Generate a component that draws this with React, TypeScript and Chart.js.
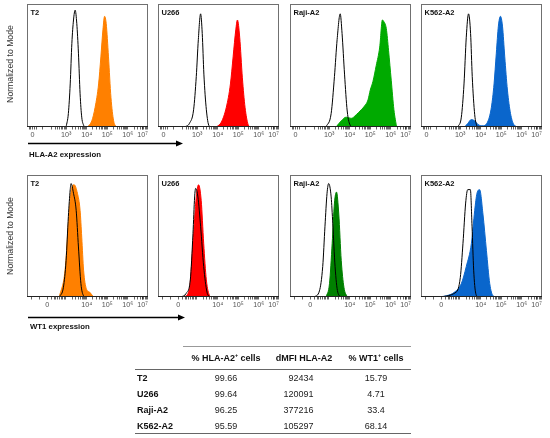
import React, { useEffect, useRef } from "react";
import { Chart, registerables } from "chart.js";

Chart.register(...registerables);

const FONT = "'Liberation Sans', Arial, Helvetica, sans-serif";

// ---- x axis (biexponential display, in decade units) ----
const X_MIN = 1.1;
const X_MAX = 6.98;
const HLA_TICK_POS = [1.37, 3, 4, 5, 6, 6.72];
const HLA_TICK_LABELS = ["0", "10³", "10⁴", "10⁵", "10⁶", "10⁷"];
const WT1_TICK_POS = [2.08, 4, 5, 6, 6.72];
const WT1_TICK_LABELS = ["0", "10⁴", "10⁵", "10⁶", "10⁷"];
const HLA_ZERO_TICKS = [1.2, 1.29, 1.45, 1.55, 1.85];
const WT1_ZERO_TICKS = [1.33, 1.7, 2.45];

const CELL_LINES = ["T2", "U266", "Raji-A2", "K562-A2"];
const FILL_COLORS_HLA = ["#FF8000", "#FF0000", "#00AA00", "#0A66CC"];
const FILL_COLORS_WT1 = ["#FF8000", "#FF0000", "#008000", "#0A66CC"];

// ---- histograms: [position (log decade), % of mode] ----
// HLA-A2 row: unstained/isotype (open) and stained (filled)
const T2_HLA_OPEN: [number, number][] = [[3.0, 0], [3.11, 11], [3.2, 35], [3.28, 68], [3.36, 87], [3.44, 95], [3.52, 84], [3.6, 60], [3.68, 27], [3.76, 8], [3.88, 0]];
const T2_HLA_FILL: [number, number][] = [[4.04, 0], [4.25, 5], [4.41, 16], [4.58, 35], [4.69, 57], [4.79, 79], [4.87, 90], [4.95, 84], [5.06, 57], [5.18, 24], [5.31, 5], [5.44, 0]];
const U266_HLA_OPEN: [number, number][] = [[2.39, 0], [2.63, 3], [2.83, 14], [2.96, 41], [3.06, 71], [3.17, 92], [3.25, 76], [3.33, 43], [3.45, 14], [3.58, 1], [3.7, 0]];
const U266_HLA_FILL: [number, number][] = [[3.94, 0], [4.18, 4], [4.42, 16], [4.62, 35], [4.75, 57], [4.88, 79], [4.96, 87], [5.07, 73], [5.2, 40], [5.33, 16], [5.48, 2], [5.59, 0]];
const RAJI_HLA_OPEN: [number, number][] = [[2.85, 0], [3.1, 11], [3.26, 41], [3.39, 71], [3.54, 92], [3.63, 76], [3.75, 43], [3.88, 13], [4.04, 1], [4.15, 0]];
const RAJI_HLA_FILL: [number, number][] = [[3.34, 0], [3.59, 5], [3.83, 8], [4.07, 7], [4.32, 10], [4.56, 14], [4.72, 17], [4.89, 22], [5.0, 30], [5.13, 37], [5.29, 50], [5.46, 65], [5.59, 87], [5.65, 86], [5.78, 80], [5.89, 62], [6.02, 38], [6.15, 14], [6.28, 0]];
const K562_HLA_OPEN: [number, number][] = [[2.89, 0], [3.06, 8], [3.19, 35], [3.3, 73], [3.41, 92], [3.51, 76], [3.59, 41], [3.71, 10], [3.82, 0]];
const K562_HLA_FILL: [number, number][] = [[3.22, 0], [3.38, 3], [3.54, 6], [3.71, 5], [3.87, 2], [4.11, 1], [4.36, 5], [4.52, 16], [4.65, 35], [4.76, 60], [4.86, 82], [4.96, 90], [5.06, 82], [5.17, 57], [5.3, 30], [5.45, 11], [5.61, 2], [5.82, 0]];

// WT1 row
const T2_WT1_OPEN: [number, number][] = [[2.67, 0], [2.87, 8], [3.0, 30], [3.11, 66], [3.2, 88], [3.24, 93], [3.36, 85], [3.49, 71], [3.6, 41], [3.72, 11], [3.85, 1], [3.95, 0]];
const T2_WT1_FILL: [number, number][] = [[2.67, 0], [2.95, 22], [3.11, 60], [3.28, 90], [3.39, 92], [3.55, 85], [3.68, 71], [3.76, 49], [3.85, 22], [3.98, 7], [4.14, 4], [4.33, 0]];
const U266_WT1_OPEN: [number, number][] = [[2.23, 0], [2.47, 3], [2.67, 14], [2.8, 52], [2.88, 82], [2.93, 89], [3.04, 82], [3.17, 58], [3.32, 25], [3.48, 4], [3.61, 0]];
const U266_WT1_FILL: [number, number][] = [[2.39, 0], [2.63, 7], [2.8, 44], [2.96, 82], [3.07, 92], [3.2, 79], [3.32, 44], [3.45, 14], [3.61, 1], [3.69, 0]];
const RAJI_WT1_OPEN: [number, number][] = [[2.28, 0], [2.53, 5], [2.69, 25], [2.8, 58], [2.9, 85], [2.98, 93], [3.1, 82], [3.18, 60], [3.29, 25], [3.42, 4], [3.59, 0]];
const RAJI_WT1_FILL: [number, number][] = [[2.85, 0], [3.02, 11], [3.15, 44], [3.26, 77], [3.36, 86], [3.47, 68], [3.59, 30], [3.72, 8], [3.88, 0]];
const K562_WT1_OPEN: [number, number][] = [[1.84, 0], [2.81, 4], [3.01, 16], [3.14, 44], [3.27, 77], [3.37, 88], [3.5, 88], [3.58, 58], [3.66, 22], [3.76, 3], [3.87, 0]];
const K562_WT1_FILL: [number, number][] = [[1.84, 0], [2.33, 1], [2.73, 4], [3.06, 11], [3.3, 25], [3.55, 44], [3.71, 71], [3.82, 85], [3.95, 88], [4.11, 68], [4.28, 38], [4.44, 11], [4.6, 1], [4.76, 0]];

const HLA_OPEN = [T2_HLA_OPEN, U266_HLA_OPEN, RAJI_HLA_OPEN, K562_HLA_OPEN];
const HLA_FILL = [T2_HLA_FILL, U266_HLA_FILL, RAJI_HLA_FILL, K562_HLA_FILL];
const WT1_OPEN = [T2_WT1_OPEN, U266_WT1_OPEN, RAJI_WT1_OPEN, K562_WT1_OPEN];
const WT1_FILL = [T2_WT1_FILL, U266_WT1_FILL, RAJI_WT1_FILL, K562_WT1_FILL];

// ---- table ----
const TABLE_HEADERS = ["% HLA-A2", "dMFI HLA-A2", "% WT1"];
const HLA_POS_CELLS = ["99.66", "99.64", "96.25", "95.59"];
const DMFI_HLA = ["92434", "120091", "377216", "105297"];
const WT1_POS_CELLS = ["15.79", "4.71", "33.4", "68.14"];

// ---- layout ----
const FRAME_LEFTS = [27, 158, 290, 421];
const FRAME_W = 121;
const ROWS = [
  { top: 4, h: 123 },
  { top: 175, h: 122 },
];

function minorTicks(zero: number[]): number[] {
  const out: number[] = [...zero];
  for (let d = 2; d <= 6; d++) {
    for (let k = 2; k <= 9; k++) {
      const p = d + Math.log10(k);
      if (p > X_MIN && p < X_MAX) out.push(p);
    }
  }
  return out;
}

const framePlugin = {
  id: "frame",
  afterDatasetsDraw(chart: any) {
    const { ctx, chartArea } = chart;
    const { left, top, right, bottom } = chartArea;
    ctx.save();
    ctx.strokeStyle = "#707070";
    ctx.lineWidth = 1;
    ctx.strokeRect(left + 0.5, top + 0.5, right - left - 1, bottom - top - 1);
    ctx.strokeStyle = "#222";
    ctx.beginPath();
    ctx.moveTo(left, bottom - 0.5);
    ctx.lineTo(right, bottom - 0.5);
    ctx.stroke();
    ctx.restore();
  },
};

type PanelProps = {
  left: number;
  top: number;
  h: number;
  open: [number, number][];
  fill: [number, number][];
  color: string;
  tickPos: number[];
  tickLabels: string[];
  zeroTicks: number[];
};

function Panel({ left, top, h, open, fill, color, tickPos, tickLabels, zeroTicks }: PanelProps) {
  const ref = useRef<HTMLCanvasElement>(null);
  const cw = FRAME_W + 2;
  const ch = h + 1 + 14;
  useEffect(() => {
    const all = Array.from(new Set([...tickPos, ...minorTicks(zeroTicks)])).sort((a, b) => a - b);
    const chart = new Chart(ref.current!, {
      type: "line",
      data: {
        datasets: [
          {
            data: open.map(([x, y]) => ({ x, y })),
            borderColor: "#000",
            borderWidth: 1,
            fill: false,
            pointRadius: 0,
            cubicInterpolationMode: "monotone",
            order: 0,
          },
          {
            data: fill.map(([x, y]) => ({ x, y })),
            borderColor: color,
            backgroundColor: color,
            borderWidth: 1,
            fill: "origin",
            pointRadius: 0,
            cubicInterpolationMode: "monotone",
            order: 1,
          },
        ],
      },
      options: {
        animation: false,
        responsive: false,
        maintainAspectRatio: false,
        layout: { padding: { left: 1, right: 1, top: 1, bottom: 0 } },
        plugins: { legend: { display: false }, tooltip: { enabled: false } },
        scales: {
          x: {
            type: "linear",
            min: X_MIN,
            max: X_MAX,
            afterBuildTicks: (axis: any) => {
              axis.ticks = all.map((v) => ({ value: v }));
            },
            afterFit: (axis: any) => {
              axis.height = 14;
            },
            ticks: {
              autoSkip: false,
              maxRotation: 0,
              minRotation: 0,
              padding: 1,
              color: "#555",
              font: { size: 7.2, family: FONT },
              callback: (v: any) => {
                const i = tickPos.findIndex((p) => Math.abs(p - Number(v)) < 1e-6);
                return i >= 0 ? tickLabels[i] : "";
              },
            },
            grid: {
              drawOnChartArea: false,
              tickLength: 2.5,
              tickColor: "#222",
              tickWidth: 0.7,
            },
            border: { display: false },
          },
          y: { display: false, min: 0, max: 100 },
        },
      } as any,
      plugins: [framePlugin],
    });
    return () => chart.destroy();
  }, []);
  return (
    <canvas
      ref={ref}
      width={cw}
      height={ch}
      style={{ position: "absolute", left: left - 1, top: top - 1, width: cw, height: ch }}
    />
  );
}

const abs = (x: number, y: number, extra: React.CSSProperties = {}): React.CSSProperties => ({
  position: "absolute",
  left: x,
  top: y,
  whiteSpace: "nowrap",
  lineHeight: 1,
  ...extra,
});

export default function App() {
  const rowsData = [
    { open: HLA_OPEN, fill: HLA_FILL, colors: FILL_COLORS_HLA, tp: HLA_TICK_POS, tl: HLA_TICK_LABELS, z: HLA_ZERO_TICKS },
    { open: WT1_OPEN, fill: WT1_FILL, colors: FILL_COLORS_WT1, tp: WT1_TICK_POS, tl: WT1_TICK_LABELS, z: WT1_ZERO_TICKS },
  ];
  const rowY = [378, 394, 410, 426];
  return (
    <div
      style={{
        position: "fixed",
        left: 0,
        top: 0,
        width: 550,
        height: 438,
        background: "#fff",
        fontFamily: FONT,
        color: "#111",
        overflow: "hidden",
      }}
    >
      {rowsData.map((r, ri) =>
        CELL_LINES.map((name, ci) => (
          <React.Fragment key={`${ri}-${ci}`}>
            <Panel
              left={FRAME_LEFTS[ci]}
              top={ROWS[ri].top}
              h={ROWS[ri].h}
              open={r.open[ci]}
              fill={r.fill[ci]}
              color={r.colors[ci]}
              tickPos={r.tp}
              tickLabels={r.tl}
              zeroTicks={r.z}
            />
            <div
              style={abs(FRAME_LEFTS[ci] + 3.5, ROWS[ri].top + 8.5, {
                transform: "translateY(-50%)",
                fontSize: 7.5,
                fontWeight: "bold",
              })}
            >
              {name}
            </div>
          </React.Fragment>
        ))
      )}

      {/* y axis titles */}
      <div style={abs(10, 64, { transform: "translate(-50%,-50%) rotate(-90deg)", fontSize: 8.7, color: "#333" })}>
        Normalized to Mode
      </div>
      <div style={abs(10, 236, { transform: "translate(-50%,-50%) rotate(-90deg)", fontSize: 8.7, color: "#333" })}>
        Normalized to Mode
      </div>

      {/* arrows and table rules */}
      <svg width={550} height={438} style={{ position: "absolute", left: 0, top: 0 }}>
        <line x1={28} y1={143.5} x2={177} y2={143.5} stroke="#000" strokeWidth={1.6} />
        <polygon points="176,140.5 183,143.5 176,146.5" fill="#000" />
        <line x1={28} y1={317.5} x2={179} y2={317.5} stroke="#000" strokeWidth={1.6} />
        <polygon points="178,314.5 185,317.5 178,320.5" fill="#000" />
        <line x1={183} y1={346.5} x2={411} y2={346.5} stroke="#999" strokeWidth={1} />
        <line x1={135} y1={369.5} x2={411} y2={369.5} stroke="#666" strokeWidth={1.2} />
        <line x1={135} y1={433.5} x2={411} y2={433.5} stroke="#666" strokeWidth={1.2} />
      </svg>

      <div style={abs(29, 155, { transform: "translateY(-50%)", fontSize: 7.8, fontWeight: "bold" })}>
        HLA-A2 expression
      </div>
      <div style={abs(30, 327, { transform: "translateY(-50%)", fontSize: 7.8, fontWeight: "bold" })}>
        WT1 expression
      </div>

      {/* table header */}
      <div style={abs(226, 358, { transform: "translate(-50%,-50%)", fontSize: 9, fontWeight: "bold" })}>
        {TABLE_HEADERS[0]}
        <sup style={{ fontSize: "0.6em", lineHeight: 0 }}>+</sup> cells
      </div>
      <div style={abs(304, 358, { transform: "translate(-50%,-50%)", fontSize: 9, fontWeight: "bold" })}>
        {TABLE_HEADERS[1]}
      </div>
      <div style={abs(376, 358, { transform: "translate(-50%,-50%)", fontSize: 9, fontWeight: "bold" })}>
        {TABLE_HEADERS[2]}
        <sup style={{ fontSize: "0.6em", lineHeight: 0 }}>+</sup> cells
      </div>

      {CELL_LINES.map((name, i) => (
        <React.Fragment key={name}>
          <div style={abs(137, rowY[i], { transform: "translateY(-50%)", fontSize: 9, fontWeight: "bold" })}>{name}</div>
          <div style={abs(226, rowY[i], { transform: "translate(-50%,-50%)", fontSize: 9, color: "#222" })}>
            {HLA_POS_CELLS[i]}
          </div>
          <div style={abs(313.5, rowY[i], { transform: "translate(-100%,-50%)", fontSize: 9, color: "#222" })}>
            {DMFI_HLA[i]}
          </div>
          <div style={abs(376, rowY[i], { transform: "translate(-50%,-50%)", fontSize: 9, color: "#222" })}>
            {WT1_POS_CELLS[i]}
          </div>
        </React.Fragment>
      ))}
    </div>
  );
}
